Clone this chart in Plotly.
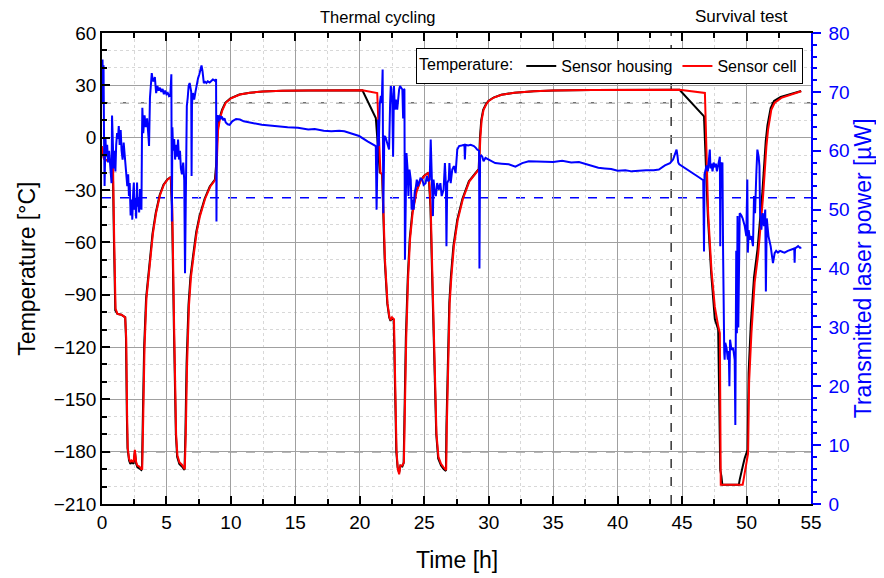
import plotly.graph_objects as go

# ---------------- data ----------------
cell_t = [0, 0.15, 0.3, 0.6, 0.85, 0.95, 1.05, 1.2, 1.5, 1.8, 1.88, 1.95, 2.0, 2.1, 2.2, 2.3, 2.45, 2.55,
          2.65, 2.75, 2.9, 3.05, 3.12, 3.2, 3.3, 3.45, 3.6, 3.75, 3.95, 4.2, 4.5, 4.8, 5.1, 5.35, 5.45, 5.6,
          5.75, 5.85, 6.0, 6.2, 6.42, 6.5, 6.6, 6.75, 6.9, 7.1, 7.35, 7.6, 8.0, 8.4, 8.8, 8.9, 9.0, 9.15,
          9.35, 9.6, 10.0, 10.7, 11.5, 12.5, 14, 16, 18, 20.2, 21.35, 21.6, 21.75, 21.95, 22.15, 22.3, 22.4,
          22.5, 22.65, 22.75, 22.85, 22.95, 23.05, 23.15, 23.3, 23.42, 23.5, 23.6, 23.75, 23.9, 24.1, 24.4,
          24.7, 25.0, 25.35, 25.5, 25.65, 25.8, 25.95, 26.1, 26.3, 26.5, 26.7, 26.75, 26.85, 26.97, 27.1,
          27.3, 27.6, 28.0, 28.5, 29.0, 29.25, 29.35, 29.45, 29.6, 29.8, 30.0, 30.4, 31.0, 32, 33.5, 35, 38,
          41, 44.8, 46.77, 46.9, 47.02, 47.28, 47.54, 47.8, 47.93, 48.0, 49.7, 50.12, 50.2, 50.38, 50.63,
          50.9, 51.1, 51.28, 51.54, 51.67, 51.92, 52.18, 52.7, 53.47, 54.24]
cell_T = [-5, -12, -13, -13, -13, -60, -98, -101, -101.5, -103, -115, -160, -178, -184, -186, -185, -186,
          -179, -186, -188, -188.5, -190, -190, -160, -120, -92, -80, -70, -55, -43, -33, -27, -24, -22.5,
          -40, -110, -170, -182, -186, -187.5, -190, -170, -130, -96, -80, -68, -54, -45, -35, -28, -24, -15,
          4, 11, 16, 20, 22.5, 24.7, 25.8, 26.4, 26.9, 27.1, 27.2, 27.2, 25.6, -20, -21, -70, -95, -103,
          -104.5, -103, -104, -140, -180, -190, -193, -188, -188, -186, -150, -115, -80, -58, -43, -31, -25,
          -22, -20, -40, -85, -130, -170, -183, -187, -189, -190.5, -165, -125, -95, -80, -62, -47, -35, -25,
          -20, -18, 0, 10, 16, 19, 21, 23, 24.6, 25.8, 26.6, 27, 27.3, 27.4, 27.4, 25.6, -16, -43, -76, -97,
          -108, -112, -199, -199, -181, -140, -112, -83, -67, -50, -34, -5, 4.6, 16, 20, 22.8, 24.7, 26.6]

housing_t = [0, 0.15, 0.3, 0.6, 0.83, 0.93, 1.03, 1.2, 1.5, 1.8, 1.86, 1.93, 1.98, 2.1, 2.2, 2.3, 2.45, 2.55,
             2.65, 2.75, 2.9, 3.05, 3.1, 3.17, 3.27, 3.42, 3.57, 3.72, 3.92, 4.17, 4.47, 4.77, 5.07, 5.33, 5.43,
             5.58, 5.73, 5.83, 6.0, 6.2, 6.4, 6.47, 6.56, 6.71, 6.86, 7.06, 7.31, 7.56, 7.96, 8.36, 8.76, 8.86,
             8.96, 9.11, 9.31, 9.56, 9.96, 10.66, 11.46, 12.46, 14, 16, 18, 20.2, 21.24, 21.55, 21.73, 21.93,
             22.13, 22.28, 22.38, 22.48, 22.63, 22.73, 22.83, 22.93, 23.05, 23.15, 23.3, 23.4, 23.47, 23.57,
             23.72, 23.87, 24.07, 24.37, 24.67, 24.97, 25.33, 25.48, 25.63, 25.78, 25.93, 26.08, 26.3, 26.5,
             26.68, 26.72, 26.82, 26.94, 27.06, 27.26, 27.56, 27.96, 28.46, 28.96, 29.22, 29.32, 29.42, 29.57,
             29.77, 29.97, 30.37, 30.97, 32, 33.5, 35, 38, 41, 44.8, 46.7, 46.88, 47.0, 47.26, 47.54, 47.8,
             47.96, 48.05, 48.12, 49.4, 49.47, 49.73, 49.86, 50.08, 50.16, 50.33, 50.58, 50.85, 51.05, 51.23,
             51.49, 51.62, 51.87, 52.13, 52.65, 53.42, 54.24]
housing_T = [-5, -12, -13, -13, -13, -60, -99, -101, -101.5, -103, -115, -160, -178, -185, -187, -186, -187,
             -180, -187, -189, -189.5, -190.5, -190, -160, -120, -92, -80, -70, -55, -43, -33, -27, -24, -22.5,
             -40, -110, -170, -183, -187, -188.5, -190.5, -170, -130, -96, -80, -68, -54, -45, -35, -28, -24,
             -15, 4, 11, 16, 20, 22.5, 24.7, 25.8, 26.4, 26.9, 27.1, 27.2, 27.2, 11.3, -20, -21, -70, -95,
             -103, -105, -103.5, -104.5, -140, -180, -189, -192, -188, -188.5, -186.5, -150, -115, -80, -58,
             -43, -31, -25, -22, -20, -40, -85, -130, -170, -184, -188, -190, -191, -165, -125, -95, -80, -62,
             -47, -35, -25, -20, -18, 0, 10, 16, 19, 21, 23, 24.6, 25.8, 26.6, 27, 27.3, 27.4, 27.4, 12.2,
             -18, -45, -78, -104, -110, -190.5, -194, -199, -199, -196, -187.6, -183.6, -179, -135, -107, -80,
             -64, -47, -31, -2, 7, 17, 21, 23.3, 25, 26.8]

power_t = [0.0, 0.04, 0.08, 0.12, 0.16, 0.2, 0.27, 0.33, 0.4, 0.47, 0.55, 0.62, 0.7, 0.74, 0.78, 0.83, 0.9,
           0.97, 1.04, 1.1, 1.17, 1.24, 1.3, 1.37, 1.45, 1.52, 1.6, 1.68, 1.76, 1.83, 1.9, 1.96, 2.03, 2.09,
           2.15, 2.22, 2.3, 2.35, 2.42, 2.47, 2.52, 2.58, 2.65, 2.72, 2.76, 2.82, 2.88, 2.95, 3.0, 3.06, 3.1,
           3.13, 3.2, 3.3, 3.4, 3.5, 3.6, 3.65, 3.72, 3.8, 3.86, 3.93, 4.0, 4.1, 4.2, 4.3, 4.4, 4.5, 4.6, 4.7,
           4.8, 4.9, 5.0, 5.1, 5.2, 5.3, 5.38, 5.42, 5.46, 5.52, 5.6, 5.67, 5.75, 5.82, 5.9, 5.97, 6.05, 6.12,
           6.2, 6.3, 6.38, 6.44, 6.5, 6.58, 6.65, 6.72, 6.8, 6.88, 6.92, 6.95, 6.98, 7.05, 7.15, 7.25, 7.35,
           7.45, 7.55, 7.65, 7.72, 7.8, 7.9, 8.0, 8.1, 8.2, 8.35, 8.5, 8.6, 8.7, 8.8, 8.85, 8.88, 8.92, 9.0,
           9.05, 9.12, 9.2, 9.3, 9.4, 9.5, 9.6, 9.75, 9.9, 10.1, 10.4, 10.7, 11.0, 11.4, 11.8, 12.4, 13.0,
           13.7, 14.4, 15.2, 16.0, 16.5, 17.2, 17.8, 18.4, 18.8, 19.2, 19.6, 19.95, 20.6, 21.24, 21.3, 21.35,
           21.42, 21.47, 21.55, 21.63, 21.7, 21.77, 21.82, 21.9, 22.0, 22.1, 22.2, 22.27, 22.35, 22.4, 22.45,
           22.52, 22.58, 22.65, 22.72, 22.8, 22.9, 23.0, 23.05, 23.12, 23.2, 23.3, 23.36, 23.42, 23.46, 23.5,
           23.56, 23.62, 23.7, 23.77, 23.85, 23.95, 24.02, 24.1, 24.18, 24.26, 24.34, 24.42, 24.5, 24.6,
           24.7, 24.85, 24.95, 25.1, 25.2, 25.3, 25.42, 25.5, 25.55, 25.62, 25.67, 25.72, 25.8, 25.9, 26.0,
           26.14, 26.25, 26.35, 26.5, 26.6, 26.68, 26.72, 26.78, 26.9, 26.95, 27.05, 27.17, 27.3, 27.43,
           27.56, 27.7, 27.9, 28.07, 28.12, 28.15, 28.2, 28.4, 28.6, 28.85, 29.0, 29.1, 29.25, 29.28, 29.33,
           29.42, 29.5, 29.6, 29.75, 30.0, 30.26, 30.5, 31.0, 31.55, 32.07, 32.6, 33.1, 33.7, 34.3, 35.0,
           35.7, 36.4, 37.0, 37.6, 38.2, 38.5, 39.0, 39.5, 40.0, 40.6, 41.1, 41.6, 42.2, 42.8, 43.2, 43.67,
           44.06, 44.3, 44.45, 44.57, 44.65, 44.7, 44.78, 45.3, 45.9, 46.3, 46.64, 46.7, 46.74, 46.82, 46.9,
           47.0, 47.08, 47.15, 47.2, 47.28, 47.36, 47.45, 47.54, 47.62, 47.7, 47.8, 47.88, 47.93, 47.96,
           48.0, 48.08, 48.13, 48.18, 48.22, 48.27, 48.3, 48.35, 48.45, 48.55, 48.62, 48.67, 48.72, 48.83,
           48.96, 49.08, 49.13, 49.2, 49.25, 49.3, 49.36, 49.42, 49.47, 49.6, 49.7, 49.86, 49.98, 50.06,
           50.1, 50.17, 50.25, 50.37, 50.5, 50.58, 50.66, 50.76, 50.84, 50.94, 51.0, 51.05, 51.15, 51.25,
           51.35, 51.45, 51.5, 51.57, 51.7, 51.87, 52.05, 52.18, 52.3, 52.44, 52.6, 52.8, 52.95, 53.2,
           53.47, 53.7, 53.73, 53.76, 54.0, 54.15, 54.25]
power_P = [68, 75.5, 70, 74.5, 62, 54, 62, 59, 61, 58, 60, 57.5, 55, 54.5, 66, 61, 57, 60, 56.5, 61, 63, 62,
           64.2, 61, 63.5, 60, 58.5, 61.4, 59, 56.8, 55, 54, 56, 52.3, 54.5, 49, 51.7, 48.3, 53, 54.6, 50,
           52, 48.5, 54.6, 50.5, 52, 49.5, 53.5, 50.6, 50, 62, 67.3, 63, 66, 64, 65.5, 62.5, 60.8, 69, 71,
           73.2, 72, 71.8, 72.5, 69.8, 71, 70.2, 70.7, 70, 70.5, 69.6, 70.2, 69.6, 69.8, 69.3, 69.5, 73, 48,
           64, 60, 62, 58.5, 61, 59, 61.9, 58.5, 60, 57, 56, 58, 55, 39.2, 60, 67.6, 69, 71, 71.5, 70.4, 70,
           55.7, 68, 69.8, 68.7, 70, 71.5, 72.3, 73, 74, 74.5, 73.5, 71.5, 71.7, 71.5, 71.8, 71.6, 71.9,
           72.1, 72, 71.8, 72.2, 48, 66, 65.9, 65, 66, 65.4, 65.8, 65.2, 65.5, 64.8, 64.5, 64.4, 65, 65.4,
           65.3, 65, 64.8, 64.6, 64.4, 64.3, 64.1, 64.0, 63.9, 63.6, 63.7, 63.4, 63.3, 63.4, 63.3, 63.0,
           62.8, 62.5, 61.6, 60.8, 50, 61, 65.3, 60.8, 68, 69.3, 68.1, 73.8, 49.4, 62.5, 62.3, 61.5, 60.5,
           60.2, 68, 71, 70.4, 68.1, 59, 71, 67, 68.7, 67, 70, 70.4, 71, 70.7, 70.4, 65.5, 70.5, 70.4, 41.5,
           56.8, 59.6, 57, 52.3, 56.8, 55.1, 50, 51.7, 50, 53, 53.7, 55.1, 54, 54.5, 55.3, 55.1, 54.2, 54.5,
           55.7, 54.8, 55.1, 61.9, 58, 53.7, 48.9, 55.1, 53.2, 52.3, 54.5, 53.4, 54.5, 52.3, 53.4, 57.9, 54,
           43.8, 54.5, 55.1, 57.9, 54.5, 56.8, 57.4, 56.2, 60.2, 60.8, 60.9, 61.0, 60.7, 58.5, 61, 60.9, 61.0,
           60.8, 60.5, 60.2, 60.0, 40, 59, 59.2, 59, 58.2, 58.8, 58.5, 58.2, 57.9, 57.8, 57.7, 57.3, 57.9,
           58.2, 58.2, 58.2, 58.1, 58.3, 58.0, 58.1, 57.7, 57.4, 57.1, 57.0, 56.9, 56.6, 56.7, 56.5, 56.6,
           56.7, 56.7, 56.8, 57.5, 57.9, 58.5, 59.6, 60.2, 59, 58, 57.7, 56.9, 56, 55.5, 55, 42.9, 56, 56.8,
           57.5, 56.5, 58.5, 60.2, 57, 57.8, 56.5, 58, 57.2, 57.8, 56.5, 57.5, 58, 59, 43.8, 58, 57.5, 58, 43,
           30, 25.7, 24.5, 27.4, 26.5, 24.5, 26, 20, 27.9, 26.2, 26.5, 24.5, 13.4, 43, 29, 48.9, 30, 49.4,
           49.4, 49, 48.5, 47.2, 45.5, 55.1, 42.7, 46.5, 44.9, 45.5, 43.8, 52.3, 49.4, 56.2, 60.2, 59, 57.4,
           49.4, 46.6, 49.4, 47.2, 50, 36.1, 48.5, 45.5, 43.8, 40.9, 42.6, 43, 42.7, 43, 42.8, 42.7, 43, 43.2,
           43.4, 41, 43.4, 43.8, 43.5, 43.6]

ref_temps = [20, -180]
ref_power = 52
marker_time = 44.15

FONT = "Liberation Sans, Arial, sans-serif"

fig = go.Figure()
fig.add_trace(go.Scatter(x=housing_t, y=housing_T, mode="lines", name="Sensor housing",
                         line=dict(color="black", width=2)))
fig.add_trace(go.Scatter(x=cell_t, y=cell_T, mode="lines", name="Sensor cell",
                         line=dict(color="#ff0000", width=2)))
fig.add_trace(go.Scatter(x=power_t, y=power_P, mode="lines", name="Power", showlegend=False,
                         line=dict(color="#0000ff", width=2), yaxis="y2"))

for rt in ref_temps:
    fig.add_shape(type="line", xref="paper", x0=0, x1=1, yref="y", y0=rt, y1=rt,
                  line=dict(color="#707070", width=1.5, dash="dash"), layer="between")
fig.add_shape(type="line", xref="paper", x0=0, x1=1, yref="y2", y0=ref_power, y1=ref_power,
              line=dict(color="#0000ff", width=1.5, dash="dash"), layer="between")
fig.add_shape(type="line", xref="x", x0=marker_time, x1=marker_time, yref="paper", y0=0, y1=1,
              line=dict(color="black", width=1.2, dash="dash"), layer="between")

# section labels above the plot
fig.add_annotation(text="Thermal cycling", x=21.4, xref="x", y=1.034, yref="paper", yanchor="middle",
                   showarrow=False, font=dict(size=16.5, color="black", family=FONT))
fig.add_annotation(text="Survival test", x=49.6, xref="x", y=1.034, yref="paper", yanchor="middle",
                   showarrow=False, font=dict(size=17, color="black", family=FONT))
# axis titles
fig.add_annotation(text="Temperature [°C]", xref="paper", x=-0.107, xanchor="center",
                   yref="paper", y=0.5, yanchor="middle", textangle=-90, showarrow=False,
                   font=dict(size=23, color="black", family=FONT))
fig.add_annotation(text="Time [h]", xref="paper", x=0.5, xanchor="center",
                   yref="paper", y=-0.119, yanchor="middle", showarrow=False,
                   font=dict(size=23, color="black", family=FONT))
fig.add_annotation(text="Transmitted laser power [µW]", xref="paper", x=1.073, xanchor="center",
                   yref="paper", y=0.5, yanchor="middle", textangle=-90, showarrow=False,
                   font=dict(size=23, color="#0000ff", family=FONT))

fig.update_layout(
    width=876, height=570,
    margin=dict(l=94, r=73, t=25, b=74),
    paper_bgcolor="white", plot_bgcolor="white",
    font=dict(family=FONT, size=19, color="black"),
    showlegend=True,
    legend=dict(orientation="h", x=0.9887, xanchor="right", y=0.968, yanchor="top",
                bordercolor="black", borderwidth=1, bgcolor="white",
                font=dict(size=16, family=FONT),
                title=dict(text="Temperature:", side="left", font=dict(size=16, family=FONT)),
                itemwidth=30, tracegroupgap=0),
    xaxis=dict(range=[0, 55], dtick=5, tick0=0, showline=True, linecolor="black", linewidth=1.5,
               mirror="ticks", ticks="inside", ticklen=8, tickcolor="black", tickwidth=1.5,
               showgrid=True, gridcolor="#a0a0a0", gridwidth=1, zeroline=False, automargin=False,
               minor=dict(dtick=2.5, ticks="inside", ticklen=5, tickcolor="black", showgrid=True,
                          gridcolor="#d8d8d8", griddash="dot", gridwidth=1),
               tickfont=dict(size=19)),
    yaxis=dict(range=[-210, 60], dtick=30, tick0=0, showline=True, linecolor="black", linewidth=1.5,
               mirror=False, ticks="inside", ticklen=8, tickcolor="black", tickwidth=1.5,
               showgrid=True, gridcolor="#a0a0a0", gridwidth=1, zeroline=False, automargin=False,
               minor=dict(dtick=10, ticks="inside", ticklen=5, tickcolor="black", showgrid=True,
                          gridcolor="#d8d8d8", griddash="dot", gridwidth=1),
               tickfont=dict(size=19)),
    yaxis2=dict(range=[0, 80], dtick=10, tick0=0, overlaying="y", side="right", showline=True,
                linecolor="#0000ff", linewidth=1.5, ticks="outside", ticklen=8, tickcolor="#0000ff",
                tickwidth=1.5, showgrid=False, zeroline=False, automargin=False,
                ticklabelstandoff=4,
                minor=dict(dtick=2, ticks="outside", ticklen=4, tickcolor="#0000ff", showgrid=False),
                tickfont=dict(size=19, color="#0000ff")),
)

fig.write_html("out.html")
